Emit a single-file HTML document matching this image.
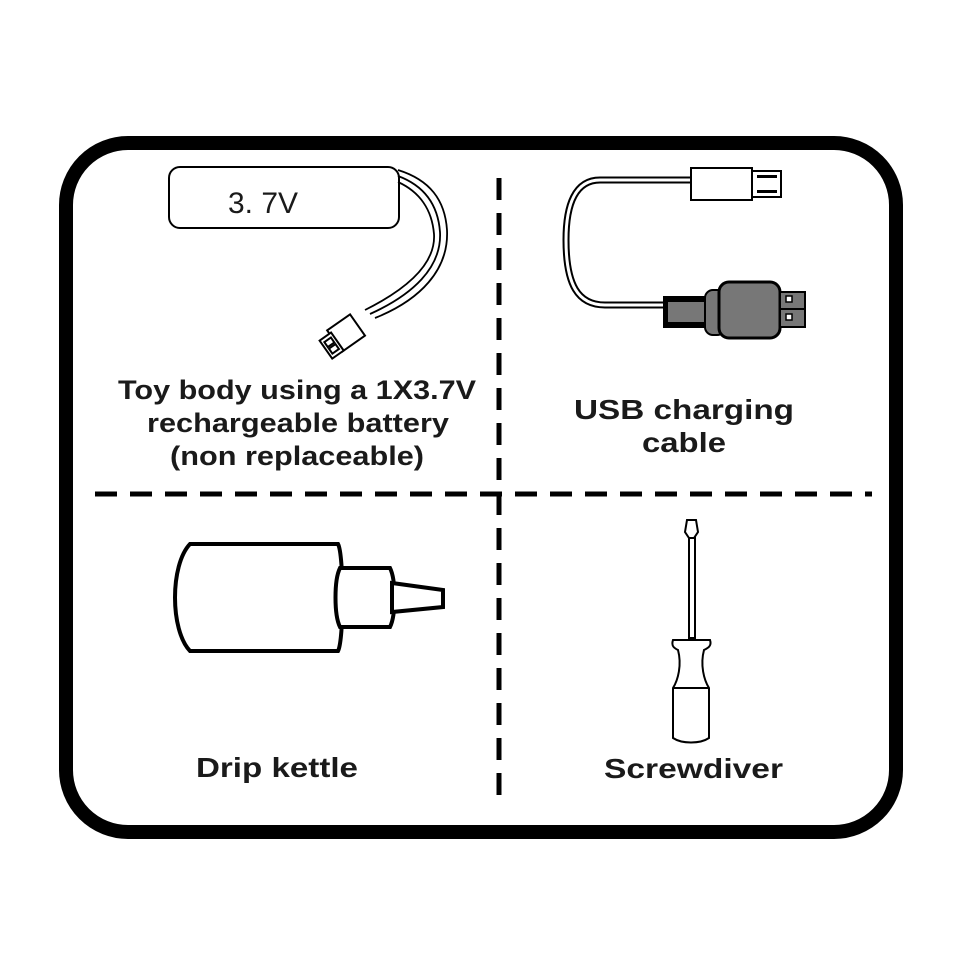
<!DOCTYPE html>
<html><head><meta charset="utf-8"><style>
body{margin:0;background:#fff}
svg{display:block}
text{font-family:"Liberation Sans",Arial,sans-serif;font-weight:bold;fill:#1a1a1a}
</style></head><body>
<svg width="960" height="960" viewBox="0 0 960 960">
<rect x="66" y="143" width="830" height="689" rx="62" fill="none" stroke="#000" stroke-width="14"/>
<line x1="499" y1="178" x2="499" y2="800" stroke="#000" stroke-width="5" stroke-dasharray="22,13"/>
<line x1="95" y1="494" x2="872" y2="494" stroke="#000" stroke-width="5" stroke-dasharray="22,13"/>

<!-- battery -->
<rect x="169" y="167" width="230" height="61" rx="11" fill="#fff" stroke="#000" stroke-width="2"/>
<text x="228" y="213" textLength="70" lengthAdjust="spacingAndGlyphs" style="font-weight:normal;font-size:30px">3. 7V</text>
<g fill="none" stroke="#000" stroke-width="1.8">
<path d="M398 170 C430 180 445 200 447 230 C449 270 420 300 375 318"/>
<path d="M398 176 C425 186 438 205 440 232 C442 268 412 295 370 314"/>
<path d="M398 182 C420 192 432 210 434 234 C436 265 405 290 365 310"/>
</g>
<g transform="translate(345,335) rotate(-35)" fill="#fff" stroke="#000" stroke-width="2">
<rect x="-12" y="-14" width="28" height="26"/>
<rect x="-24" y="-10" width="14" height="22"/>
<rect x="-21" y="-6" width="8" height="6"/><rect x="-21" y="2" width="8" height="6"/>
</g>

<!-- usb -->
<path d="M690 180 L600 180 C575 180 566 205 566 240 C566 285 578 305 605 305 L665 305" fill="none" stroke="#000" stroke-width="7"/>
<path d="M690 180 L600 180 C575 180 566 205 566 240 C566 285 578 305 605 305 L665 305" fill="none" stroke="#fff" stroke-width="3"/>
<rect x="691" y="168" width="61" height="32" fill="#fff" stroke="#000" stroke-width="2"/>
<rect x="752" y="171" width="29" height="26" fill="#fff" stroke="#000" stroke-width="2"/>
<rect x="757" y="175" width="20" height="3" fill="#000"/><rect x="757" y="190" width="20" height="3" fill="#000"/>
<rect x="663" y="296" width="52" height="32" fill="#000"/>
<rect x="668" y="302" width="42" height="20" fill="#777"/>
<rect x="705" y="290" width="20" height="45" rx="8" fill="#777" stroke="#000" stroke-width="2"/>
<rect x="719" y="282" width="61" height="56" rx="10" fill="#777" stroke="#000" stroke-width="3"/>
<rect x="780" y="292" width="25" height="35" fill="#777" stroke="#000" stroke-width="2"/>
<line x1="780" y1="309" x2="805" y2="309" stroke="#000" stroke-width="2"/>
<rect x="786" y="296" width="6" height="6" fill="#fff" stroke="#000" stroke-width="1.5"/>
<rect x="786" y="314" width="6" height="6" fill="#fff" stroke="#000" stroke-width="1.5"/>

<text x="118" y="399" textLength="358" lengthAdjust="spacingAndGlyphs" style="font-size:27px">Toy body using a 1X3.7V</text>
<text x="147" y="432" textLength="302" lengthAdjust="spacingAndGlyphs" style="font-size:27px">rechargeable battery</text>
<text x="170" y="465" textLength="254" lengthAdjust="spacingAndGlyphs" style="font-size:27px">(non replaceable)</text>
<text x="574" y="419" textLength="220" lengthAdjust="spacingAndGlyphs" style="font-size:28px">USB charging</text>
<text x="642" y="452" textLength="84" lengthAdjust="spacingAndGlyphs" style="font-size:28px">cable</text>

<!-- kettle -->
<g fill="#fff" stroke="#000" stroke-width="4">
<path d="M190 544 L338 544 C344 555 344 640 338 651 L190 651 C170 630 170 565 190 544 Z"/>
<path d="M340 568 L390 568 C396 580 396 615 390 627 L340 627 C334 615 334 580 340 568 Z"/>
<path d="M392 583 L443 590 L443 607 L392 612 Z"/>
</g>

<!-- screwdriver -->
<g fill="#fff" stroke="#000" stroke-width="2">
<path d="M687 520 L696 520 L698 532 L694 538 L689 538 L685 532 Z"/>
<rect x="689" y="538" width="6" height="100"/>
<path d="M673 640 L710 640 C712 646 708 648 704 650 C700 665 704 680 709 688 L709 738 C700 744 682 744 673 738 L673 688 C678 680 682 665 678 650 C674 648 671 646 673 640 Z"/>
<line x1="673" y1="688" x2="709" y2="688"/>
</g>

<text x="196" y="777" textLength="162" lengthAdjust="spacingAndGlyphs" style="font-size:28px">Drip kettle</text>
<text x="604" y="778" textLength="179" lengthAdjust="spacingAndGlyphs" style="font-size:28px">Screwdiver</text>
</svg>
</body></html>
